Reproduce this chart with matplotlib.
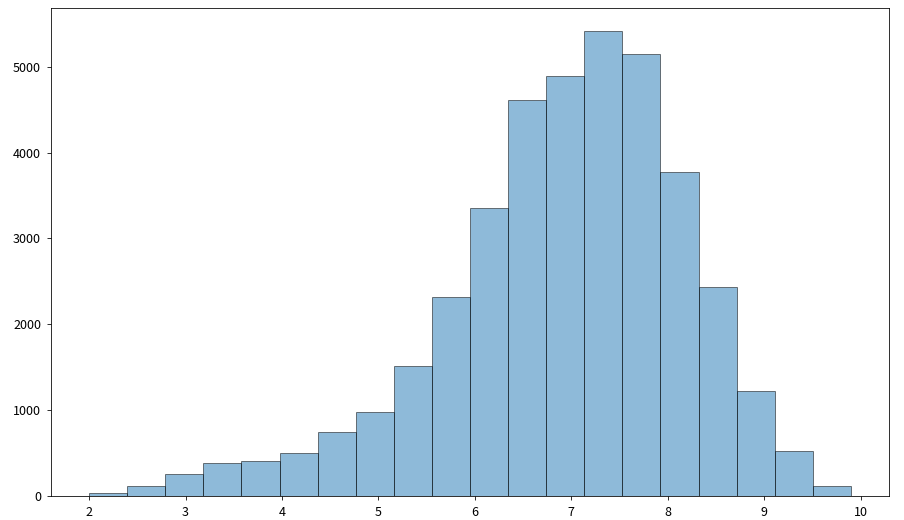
import numpy as np
import matplotlib
matplotlib.use("Agg")
import matplotlib.pyplot as plt

plt.rcParams['font.family'] = ['Noto Sans CJK SC', 'DejaVu Sans']
plt.rcParams['axes.unicode_minus'] = False

# histogram: 20 bins between 2.0 and 9.9
bin_lo = 2.0
bin_hi = 9.9
n_bins = 20
counts = [38, 115, 255, 385, 405, 500, 745, 975, 1510, 2315,
          3360, 4615, 4895, 5420, 5150, 3780, 2430, 1220, 525, 115]

edges = np.linspace(bin_lo, bin_hi, n_bins + 1)
centers = (edges[:-1] + edges[1:]) / 2

fig = plt.figure(figsize=(904 / 72, 520 / 72), dpi=72)
ax = fig.add_subplot(111)
fig.subplots_adjust(left=51 / 904, right=889 / 904, top=1 - 7.5 / 520, bottom=1 - 496 / 520)

ax.hist(centers, bins=edges, weights=counts, alpha=0.5, edgecolor='black')
ax.tick_params(labelsize=12.5, pad=6, length=4)

fig.savefig("out.png", dpi=72)
